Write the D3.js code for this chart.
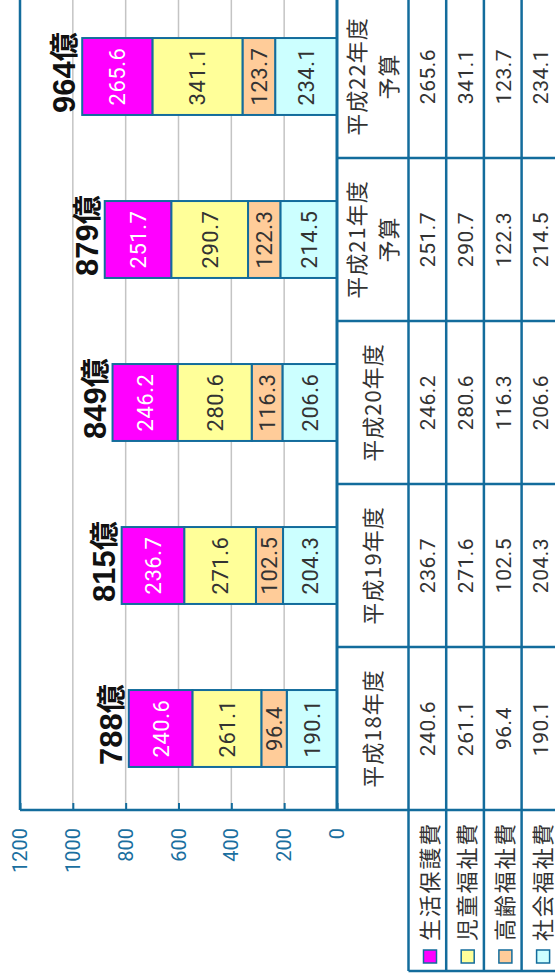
<!DOCTYPE html>
<html>
<head>
<meta charset="utf-8">
<script src="https://cdn.jsdelivr.net/npm/d3@7"></script>
<style>
body{margin:0;background:#fff}
svg{display:block}
</style>
</head>
<body>
<svg id="mainsvg" width="555" height="979"></svg>
<script>
// data
const years = ['平成18年度','平成19年度','平成20年度','平成21年度予算','平成22年度予算']
const yearLines = [['平成18年度'],['平成19年度'],['平成20年度'],['平成21年度','予算'],['平成22年度','予算']]
const seriesNames = ['生活保護費','児童福祉費','高齢福祉費','社会福祉費']
const seikatsu = [240.6,236.7,246.2,251.7,265.6]
const jidou = [261.1,271.6,280.6,290.7,341.1]
const koureii = [96.4,102.5,116.3,122.3,123.7]
const shakai = [190.1,204.3,206.6,214.5,234.1]
const yTicks = [0,200,400,600,800,1000,1200]

const seriesValues = [seikatsu,jidou,koureii,shakai]
const colors = ['#ff00ff','#ffff99','#ffcc99','#ccffff']
const blue = '#136c9c'
const txt = '#333'
const jp = '"Noto Sans CJK JP","Noto Sans",sans-serif'
const num = 'Roboto,"Noto Sans",sans-serif'

// the chart is drawn upright (979 wide, 555 high) and turned a quarter left
const W = 979
const svg = d3.select('#mainsvg')
const g = svg.append('g').attr('transform',`translate(0,${W}) rotate(-90)`)

const plotLeft = 169, plotRight = 984
const x = d3.scaleBand().domain(years).range([plotLeft,plotRight]).paddingInner(0.528).paddingOuter(0.264)
const y = d3.scaleLinear().domain([0,1200]).range([337,20])

// rows for stack
const rows = years.map((yr,i) => {
    let r = {year:yr}
    seriesNames.forEach((s,j) => r[s] = seriesValues[j][i])
    return r
})
const stackKeys = seriesNames.slice().reverse()
const stacked = d3.stack().keys(stackKeys)(rows)

// grid
g.append('g').selectAll('line')
    .data(yTicks.filter(d => d > 0 && d < 1200))
    .join('line')
    .attr('x1',plotLeft).attr('x2',plotRight)
    .attr('y1',d => y(d)).attr('y2',d => y(d))
    .attr('stroke','#c4c4c4').attr('stroke-width',1.5)

// axis
const axis = g.append('g').attr('transform',`translate(${plotLeft},0)`)
    .call(d3.axisRight(y).tickValues(yTicks).tickSize(7).tickFormat(''))
axis.select('.domain').remove()
axis.selectAll('line').attr('stroke',blue).attr('stroke-width',2)

g.append('line').attr('x1',plotLeft).attr('x2',plotLeft).attr('y1',y(1200)).attr('y2',y(0))
    .attr('stroke',blue).attr('stroke-width',2.5)
g.append('line').attr('x1',plotLeft).attr('x2',plotRight).attr('y1',y(1200)).attr('y2',y(1200))
    .attr('stroke',blue).attr('stroke-width',2.5)

g.append('g').selectAll('text')
    .data(yTicks)
    .join('text')
    .attr('x',151).attr('y',d => y(d) + 7)
    .attr('text-anchor','end')
    .attr('font-family',num).attr('font-size','20px')
    .attr('fill','#1a6fa0')
    .text(d => d)

// bars
const layer = g.append('g').selectAll('g')
    .data(stacked)
    .join('g')
    .attr('fill',d => colors[seriesNames.indexOf(d.key)])

layer.selectAll('rect')
    .data(d => d)
    .join('rect')
    .attr('x',d => x(d.data.year))
    .attr('width',x.bandwidth())
    .attr('y',d => y(d[1]))
    .attr('height',d => y(d[0]) - y(d[1]))
    .attr('stroke',blue).attr('stroke-width',2)

layer.selectAll('text')
    .data(d => d.map(v => ({v, key:d.key})))
    .join('text')
    .attr('x',d => x(d.v.data.year) + x.bandwidth() / 2)
    .attr('y',d => (y(d.v[0]) + y(d.v[1])) / 2 + 8)
    .attr('text-anchor','middle')
    .attr('font-family',num).attr('font-size','22px')
    .attr('letter-spacing','0.5px')
    .attr('fill',d => d.key === '生活保護費' ? '#fff' : txt)
    .text(d => d.v.data[d.key].toFixed(1))

// totals
const topLayer = stacked[stacked.length - 1]
g.append('g').selectAll('text')
    .data(topLayer)
    .join('text')
    .attr('x',d => x(d.data.year) + x.bandwidth() / 2 + 4)
    .attr('y',d => y(d[1]) - 7)
    .attr('text-anchor','middle')
    .attr('font-weight','bold').attr('fill','#111')
    .each(function(d){
        const t = d3.select(this)
        t.append('tspan').attr('font-family','"Liberation Sans",Arial,sans-serif').attr('font-size','31px').text(Math.floor(d[1] + 1e-6))
        t.append('tspan').attr('font-family',jp).attr('font-size','29px').text('億')
    })

// table
const headTop = y(0), headBottom = 408.5
const rowH = 37.7
const tableLeft = 8
const step = x.step()
const colEdges = d3.range(years.length + 1).map(i => plotLeft + i * step)
const rowEdges = d3.range(seriesNames.length + 1).map(i => headBottom + i * rowH)
const tableBottom = rowEdges[rowEdges.length - 1]

const tb = g.append('g')
// header text
tb.selectAll('text.head')
    .data(yearLines)
    .join('text')
    .attr('class','head')
    .attr('text-anchor','middle')
    .attr('font-family',jp).attr('font-size','22px').attr('fill',txt)
    .attr('letter-spacing','1px')
    .each(function(lines,i){
        const cx = colEdges[i] + step / 2
        const mid = (headTop + headBottom) / 2
        const t = d3.select(this)
        lines.forEach((l,k) => {
            const off = lines.length === 1 ? 0 : (k === 0 ? -16 : 16)
            t.append('tspan').attr('x',cx).attr('y',mid + off + 8).text(l)
        })
    })

// data cells
seriesNames.forEach((s,j) => {
    const cy = (rowEdges[j] + rowEdges[j + 1]) / 2
    tb.append('g').selectAll('text')
        .data(seriesValues[j])
        .join('text')
        .attr('x',(d,i) => colEdges[i] + step / 2)
        .attr('y',cy + 8)
        .attr('text-anchor','middle')
        .attr('font-family',num).attr('font-size','21px').attr('fill',txt)
        .attr('letter-spacing','0.5px')
        .text(d => d.toFixed(1))
})

// legend column
const leg = tb.append('g').selectAll('g')
    .data(seriesNames)
    .join('g')
leg.append('rect')
    .attr('x',16).attr('y',(d,j) => rowEdges[j] + 15)
    .attr('width',13).attr('height',13)
    .attr('fill',(d,j) => colors[j])
    .attr('stroke',blue).attr('stroke-width',1.5)
leg.append('text')
    .attr('x',38).attr('y',(d,j) => rowEdges[j] + 29)
    .attr('font-family',jp).attr('font-size','22px').attr('fill',txt)
    .attr('letter-spacing','1.8px')
    .text(d => d)

// grid lines of table
rowEdges.forEach(r => {
    tb.append('line').attr('x1',tableLeft).attr('x2',plotRight).attr('y1',r).attr('y2',r)
        .attr('stroke',blue).attr('stroke-width',2.5)
})
tb.append('line').attr('x1',tableLeft).attr('x2',tableLeft).attr('y1',headBottom).attr('y2',tableBottom)
    .attr('stroke',blue).attr('stroke-width',2.5)
colEdges.forEach(c => {
    tb.append('line').attr('x1',c).attr('x2',c).attr('y1',headTop).attr('y2',tableBottom)
        .attr('stroke',blue).attr('stroke-width',2.5)
})
tb.append('line').attr('x1',plotLeft).attr('x2',plotRight).attr('y1',headTop).attr('y2',headTop)
    .attr('stroke',blue).attr('stroke-width',3)
</script>
</body>
</html>
